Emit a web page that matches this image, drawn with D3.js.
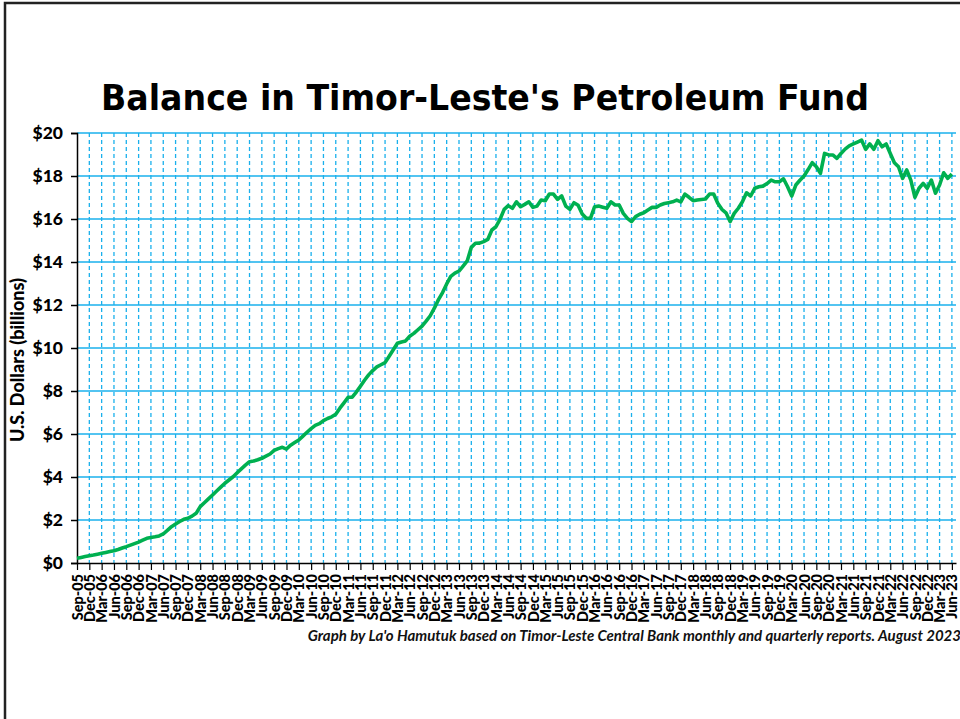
<!DOCTYPE html>
<html>
<head>
<meta charset="utf-8">
<script src="https://cdn.jsdelivr.net/npm/d3@7"></script>
<style>
  html, body { margin: 0; padding: 0; background: #fff; }
  svg { display: block; }
</style>
</head>
<body>
<svg id="chart" width="960" height="719"></svg>
<script>
// ---- Data (monthly balance, US$ billions, starting Sep-05) ----
const startMonth = "Sep-05";
const balance = [
  0.22, 0.26, 0.30, 0.34,                                                  // 2005 Sep-Dec
  0.37, 0.41, 0.45, 0.49, 0.53, 0.57, 0.63, 0.70, 0.76, 0.83, 0.90, 0.97,  // 2006
  1.06, 1.15, 1.19, 1.22, 1.26, 1.35, 1.52, 1.69, 1.81, 1.93, 2.03, 2.08,  // 2007
  2.18, 2.31, 2.62, 2.80, 2.98, 3.16, 3.35, 3.53, 3.71, 3.86, 4.01, 4.20,  // 2008
  4.38, 4.55, 4.71, 4.74, 4.80, 4.87, 4.97, 5.07, 5.24, 5.32, 5.38, 5.30,  // 2009
  5.48, 5.60, 5.72, 5.90, 6.08, 6.25, 6.40, 6.48, 6.62, 6.72, 6.80, 6.92,  // 2010
  7.20, 7.45, 7.71, 7.71, 7.95, 8.22, 8.50, 8.75, 8.95, 9.12, 9.22, 9.32,  // 2011
  9.62, 9.92, 10.22, 10.28, 10.33, 10.55, 10.68, 10.85, 11.02, 11.25, 11.50, 11.85, // 2012
  12.25, 12.58, 12.98, 13.33, 13.48, 13.58, 13.81, 14.05, 14.68, 14.87, 14.88, 14.95, // 2013
  15.05, 15.49, 15.64, 15.99, 16.45, 16.62, 16.50, 16.80, 16.57, 16.68, 16.80, 16.54, // 2014
  16.60, 16.88, 16.85, 17.16, 17.16, 16.91, 17.07, 16.60, 16.45, 16.76, 16.64, 16.23, // 2015
  16.03, 16.03, 16.57, 16.60, 16.55, 16.50, 16.80, 16.65, 16.65, 16.26, 16.03, 15.88, // 2016
  16.11, 16.22, 16.29, 16.42, 16.54, 16.54, 16.65, 16.72, 16.76, 16.80, 16.88, 16.80, // 2017
  17.16, 17.01, 16.85, 16.88, 16.91, 16.93, 17.16, 17.16, 16.73, 16.45, 16.29, 15.88, // 2018
  16.26, 16.50, 16.80, 17.22, 17.07, 17.43, 17.50, 17.53, 17.65, 17.81, 17.73, 17.73, // 2019
  17.87, 17.50, 17.07, 17.58, 17.80, 18.00, 18.30, 18.62, 18.43, 18.12, 19.05, 18.98, // 2020
  18.98, 18.82, 19.05, 19.25, 19.40, 19.49, 19.58, 19.67, 19.24, 19.49, 19.24, 19.64, // 2021
  19.36, 19.49, 19.05, 18.62, 18.43, 17.89, 18.28, 17.81, 17.01, 17.43, 17.66, 17.43, // 2022
  17.81, 17.20, 17.58, 18.15, 17.89, 18.09                                 // 2023 Jan-Jun
];

const xTickLabels = [
  "Sep-05","Dec-05",
  "Mar-06","Jun-06","Sep-06","Dec-06",
  "Mar-07","Jun-07","Sep-07","Dec-07",
  "Mar-08","Jun-08","Sep-08","Dec-08",
  "Mar-09","Jun-09","Sep-09","Dec-09",
  "Mar-10","Jun-10","Sep-10","Dec-10",
  "Mar-11","Jun-11","Sep-11","Dec-11",
  "Mar-12","Jun-12","Sep-12","Dec-12",
  "Mar-13","Jun-13","Sep-13","Dec-13",
  "Mar-14","Jun-14","Sep-14","Dec-14",
  "Mar-15","Jun-15","Sep-15","Dec-15",
  "Mar-16","Jun-16","Sep-16","Dec-16",
  "Mar-17","Jun-17","Sep-17","Dec-17",
  "Mar-18","Jun-18","Sep-18","Dec-18",
  "Mar-19","Jun-19","Sep-19","Dec-19",
  "Mar-20","Jun-20","Sep-20","Dec-20",
  "Mar-21","Jun-21","Sep-21","Dec-21",
  "Mar-22","Jun-22","Sep-22","Dec-22",
  "Mar-23","Jun-23"
];
const yTicks = [0, 2, 4, 6, 8, 10, 12, 14, 16, 18, 20];

const titleText = "Balance in Timor-Leste's Petroleum Fund";
const yAxisTitle = "U.S. Dollars (billions)";
const footnote = "Graph by La'o Hamutuk based on Timor-Leste Central Bank monthly and quarterly reports. August 2023";

// ---- Layout ----
const plot = { left: 77, right: 956, top: 133, bottom: 563 };
const gridColor = "#1ab0ec";
const lineColor = "#00b050";
const fontFam = "Lato, 'Open Sans', 'Liberation Sans', sans-serif";

const svg = d3.select("#chart");

// frame
svg.append("rect")
  .attr("x", 5).attr("y", 3)
  .attr("width", 1000).attr("height", 760)
  .attr("fill", "none").attr("stroke", "#222").attr("stroke-width", 2.5);

const x = d3.scaleLinear().domain([0, 214]).range([plot.left, plot.right]);
const y = d3.scaleLinear().domain([0, 20]).range([plot.bottom, plot.top]);

const xTickValues = xTickLabels.map((d, i) => i * 3);

// vertical dashed gridlines
svg.append("g")
  .selectAll("line")
  .data(xTickValues.filter(v => v > 0))
  .join("line")
  .attr("x1", d => x(d)).attr("x2", d => x(d))
  .attr("y1", plot.top).attr("y2", plot.bottom)
  .attr("stroke", gridColor).attr("stroke-width", 1.3)
  .attr("stroke-dasharray", "4,3");

// horizontal gridlines
svg.append("g")
  .selectAll("line")
  .data(yTicks.filter(v => v > 0))
  .join("line")
  .attr("x1", plot.left).attr("x2", plot.right)
  .attr("y1", d => y(d)).attr("y2", d => y(d))
  .attr("stroke", gridColor).attr("stroke-width", 1.6);

// y axis
const yAxis = svg.append("g")
  .attr("transform", `translate(${plot.left},0)`)
  .call(d3.axisLeft(y).tickValues(yTicks).tickSize(6).tickPadding(8)
        .tickFormat(d => "$" + d));
yAxis.select(".domain").attr("stroke", "#000").attr("stroke-width", 1.5);
yAxis.selectAll(".tick line").attr("stroke", "#000").attr("stroke-width", 1.5);
yAxis.selectAll(".tick text")
  .attr("font-family", fontFam).attr("font-weight", "900")
  .attr("font-size", 17.5).attr("fill", "#000");

// x axis
const xAxis = svg.append("g")
  .attr("transform", `translate(0,${plot.bottom})`)
  .call(d3.axisBottom(x).tickValues(xTickValues).tickSize(7).tickSizeOuter(0)
        .tickFormat((d, i) => xTickLabels[i]));
xAxis.select(".domain").attr("stroke", "#000").attr("stroke-width", 1.5);
xAxis.selectAll(".tick line").attr("stroke", "#000").attr("stroke-width", 1.2);
xAxis.selectAll(".tick text")
  .attr("font-family", fontFam).attr("font-weight", "900")
  .attr("font-size", 14.5).attr("fill", "#000")
  .attr("text-anchor", "end")
  .attr("dy", "0.35em")
  .attr("transform", "translate(0,2) rotate(-90)")
  .attr("x", -9).attr("y", 0);

// line
const line = d3.line()
  .x((d, i) => x(i))
  .y(d => y(d));
svg.append("path")
  .datum(balance)
  .attr("d", line)
  .attr("fill", "none")
  .attr("stroke", lineColor)
  .attr("stroke-width", 3.6)
  .attr("stroke-linejoin", "round");

// title
svg.append("text")
  .attr("x", 101).attr("y", 110)
  .attr("font-family", "'DejaVu Sans', Verdana, sans-serif")
  .attr("font-weight", "bold")
  .attr("font-size", 36)
  .attr("textLength", 768)
  .attr("lengthAdjust", "spacingAndGlyphs")
  .attr("fill", "#000")
  .text(titleText);

// y axis title
svg.append("text")
  .attr("transform", `translate(24,${(plot.top + plot.bottom) / 2 + 12}) rotate(-90)`)
  .attr("text-anchor", "middle")
  .attr("font-family", fontFam).attr("font-weight", "900")
  .attr("font-size", 18).attr("fill", "#000")
  .text(yAxisTitle);

// footnote
svg.append("text")
  .attr("x", 961).attr("y", 641)
  .attr("text-anchor", "end")
  .attr("font-family", fontFam).attr("font-weight", "bold").attr("font-style", "italic")
  .attr("font-size", 15).attr("fill", "#111")
  .text(footnote);
</script>
</body>
</html>
